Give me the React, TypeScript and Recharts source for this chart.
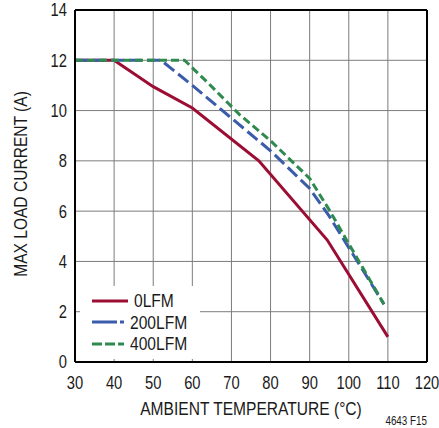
import { CartesianGrid, Label, Legend, Line, LineChart, ReferenceLine, XAxis, YAxis } from 'recharts';

const xTicks = [30, 40, 50, 60, 70, 80, 90, 100, 110, 120];
const yTicks = [0, 2, 4, 6, 8, 10, 12, 14];

const temps0 = [30, 40, 50, 60, 77, 94.5, 110];
const load0 = [12, 12, 10.95, 10.1, 8, 4.85, 1];

const temps200 = [30, 52, 60, 70, 80, 90, 95, 100, 109];
const load200 = [12, 12, 11, 9.7, 8.4, 6.9, 5.8, 4.55, 2.3];

const temps400 = [30, 58, 64, 72, 80, 90, 95, 100, 109];
const load400 = [12, 12, 11.1, 9.85, 8.8, 7.3, 6.05, 4.7, 2.3];

// no narrow font installed, so squeeze Liberation Sans (Arial metrics) like Arial Narrow
const FONT = '"Liberation Sans", Arial, sans-serif';
const SQUEEZE = 0.82;
const INK = '#1a1a1a';

const toPoints = (xs: number[], ys: number[]) => xs.map((x, i) => ({ x, y: ys[i] }));

const series = [
  { name: '0LFM', data: toPoints(temps0, load0), color: '#9c0d33', dash: undefined, legendDash: undefined },
  { name: '200LFM', data: toPoints(temps200, load200), color: '#3b5bab', dash: '13 5', legendDash: '25 3' },
  { name: '400LFM', data: toPoints(temps400, load400), color: '#2f8a4e', dash: '8 4', legendDash: '10 3' },
];

function NarrowText({ x, y, anchor, size, rotate, children }: any) {
  return (
    <text
      transform={`translate(${x},${y})${rotate ? ' rotate(-90)' : ''} scale(${SQUEEZE},1)`}
      textAnchor={anchor}
      fontSize={size}
      fontFamily={FONT}
      fill={INK}
    >
      {children}
    </text>
  );
}

const XTick = ({ x, y, payload }: any) => (
  <NarrowText x={x} y={y + 0.71 * 18} anchor="middle" size={18}>
    {payload.value}
  </NarrowText>
);

const YTick = ({ x, y, payload }: any) => (
  <NarrowText x={x} y={y + 0.355 * 18} anchor="end" size={18}>
    {payload.value}
  </NarrowText>
);

function LegendBox() {
  return (
    <div style={{ background: '#fff', padding: '4px 0 4px 12px', fontFamily: FONT }}>
      {series.map((s) => (
        <div key={s.name} style={{ display: 'flex', alignItems: 'center', height: 21.5 }}>
          <svg width={36} height={6} style={{ marginRight: 6 }}>
            <line x1={0} y1={3} x2={36} y2={3} stroke={s.color} strokeWidth={3} strokeDasharray={s.legendDash} />
          </svg>
          <span
            style={{
              fontSize: 19,
              color: INK,
              lineHeight: '21px',
              display: 'inline-block',
              transform: `scaleX(${SQUEEZE})`,
              transformOrigin: 'left center',
            }}
          >
            {s.name}
          </span>
        </div>
      ))}
    </div>
  );
}

export default function App() {
  return (
    <div style={{ position: 'absolute', left: 0, top: 0, background: '#fff' }}>
      <LineChart width={439} height={428} margin={{ top: 10, right: 12, bottom: 0, left: 5 }}>
        <CartesianGrid stroke="#7c7c7c" strokeWidth={1} />
        <XAxis
          type="number"
          dataKey="x"
          domain={[30, 120]}
          ticks={xTicks}
          interval={0}
          height={66}
          tickLine={false}
          tickMargin={8}
          axisLine={{ stroke: '#000', strokeWidth: 2 }}
          tick={<XTick />}
        >
          <Label
            content={({ viewBox }: any) => (
              <NarrowText x={viewBox.x + viewBox.width / 2} y={viewBox.y + viewBox.height - 13} anchor="middle" size={19}>
                AMBIENT TEMPERATURE (°C)
              </NarrowText>
            )}
          />
          <Label
            content={({ viewBox }: any) => (
              <NarrowText x={viewBox.x + viewBox.width} y={viewBox.y + viewBox.height - 3} anchor="end" size={12}>
                4643 F15
              </NarrowText>
            )}
          />
        </XAxis>
        <YAxis
          type="number"
          domain={[0, 14]}
          ticks={yTicks}
          interval={0}
          width={70}
          tickLine={false}
          axisLine={{ stroke: '#000', strokeWidth: 2 }}
          tick={<YTick />}
        >
          <Label
            content={({ viewBox }: any) => (
              <NarrowText x={viewBox.x + 15 + 0.355 * 19} y={viewBox.y + viewBox.height / 2 - 2} anchor="middle" size={19} rotate>
                MAX LOAD CURRENT (A)
              </NarrowText>
            )}
          />
        </YAxis>
        <ReferenceLine y={14} stroke="#000" strokeWidth={2} />
        <ReferenceLine x={120} stroke="#000" strokeWidth={2} />
        {series.map((s) => (
          <Line
            key={s.name}
            data={s.data}
            dataKey="y"
            name={s.name}
            type="linear"
            stroke={s.color}
            strokeWidth={3}
            strokeDasharray={s.dash}
            dot={false}
            activeDot={false}
            isAnimationActive={false}
          />
        ))}
        <Legend
          layout="vertical"
          align="center"
          verticalAlign="middle"
          content={() => <LegendBox />}
          wrapperStyle={{ position: 'absolute', left: 80, top: 286, width: 120, height: 66 }}
        />
      </LineChart>
    </div>
  );
}
